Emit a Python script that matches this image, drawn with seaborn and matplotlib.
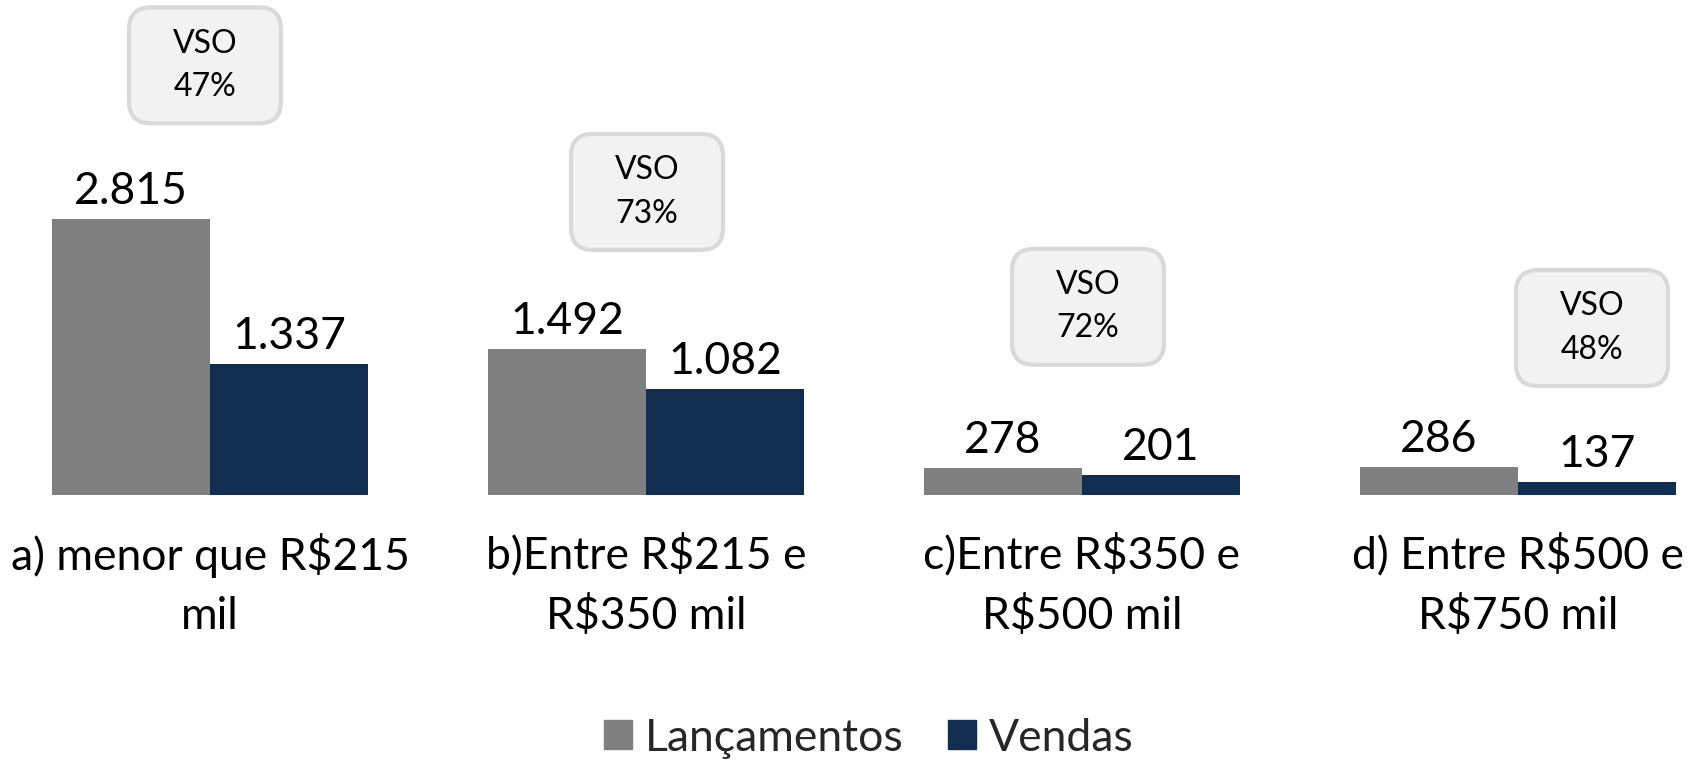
import numpy as np
import pandas as pd
import matplotlib.pyplot as plt
import seaborn as sns
from matplotlib.patches import FancyBboxPatch
from matplotlib.transforms import ScaledTranslation

# data
categories = [
    "a) menor que R\\$215\nmil",
    "b)Entre R\\$215 e\nR\\$350 mil",
    "c)Entre R\\$350 e\nR\\$500 mil",
    "d) Entre R\\$500 e\nR\\$750 mil",
]
series = ["Lançamentos", "Vendas"]
lancamentos = [2815, 1492, 278, 286]
vendas = [1337, 1082, 201, 137]
vso_pct = [47, 73, 72, 48]

colors = ["#7F7F7F", "#112D4F"]
# box centre offset (px) from category centre / taller bar top
vso_offset_px = [(-5, 154), (1, 157), (6, 161), (74, 139)]

df = pd.DataFrame({
    "faixa": categories * 2,
    "serie": [series[0]] * 4 + [series[1]] * 4,
    "valor": lancamentos + vendas,
})

sns.set_theme(style="white")
plt.rcParams["font.family"] = ["Lato", "DejaVu Sans"]

dpi = 100
fig = plt.figure(figsize=(16.91, 7.64), dpi=dpi)
ax = fig.add_axes([0, 0.352, 1, 0.641])

sns.barplot(data=df, x="faixa", y="valor", hue="serie", palette=colors,
            width=0.725, saturation=1, linewidth=0, ax=ax, legend=True)

ax.set_xlim(-210 / 436, (1691 - 210) / 436)
ax.set_ylim(0, 5000)
for cont in ax.containers:
    ax.bar_label(cont, labels=[f"{int(v):,}".replace(",", ".") for v in cont.datavalues],
                 padding=5, fontsize=32, color="black")

ax.set_xlabel("")
ax.set_ylabel("")
ax.set_yticks([])
ax.tick_params(axis="x", length=0, pad=27, labelsize=32, labelcolor="black")
for lab in ax.get_xticklabels():
    lab.set_linespacing(1.55)
sns.despine(ax=ax, left=True, bottom=True)

# VSO boxes
bw, bh = 1.52, 1.16
for i, pct in enumerate(vso_pct):
    top = max(lancamentos[i], vendas[i])
    dx, dy = vso_offset_px[i]
    tr = fig.dpi_scale_trans + ScaledTranslation(i, top, ax.transData)
    box = FancyBboxPatch((dx / dpi - bw / 2, dy / dpi - bh / 2), bw, bh,
                         boxstyle="round,pad=0,rounding_size=0.22",
                         fc="#F2F2F2", ec="#D9D9D9", lw=3, transform=tr,
                         clip_on=False)
    ax.add_patch(box)
    ax.text(dx / dpi, dy / dpi, f"VSO\n{pct}%", transform=tr, ha="center",
            va="center", fontsize=23, linespacing=1.55, color="black")

ax.get_legend().remove()
handles = [plt.Rectangle((0, 0), 1, 1, color=c) for c in colors]
fig.legend(handles, series, loc="center", bbox_to_anchor=(0.514, 0.034),
           ncol=2, frameon=False, fontsize=32, handlelength=0.62,
           handleheight=0.62, handletextpad=0.3, columnspacing=1.0)

fig.savefig("out.png", dpi=dpi)
